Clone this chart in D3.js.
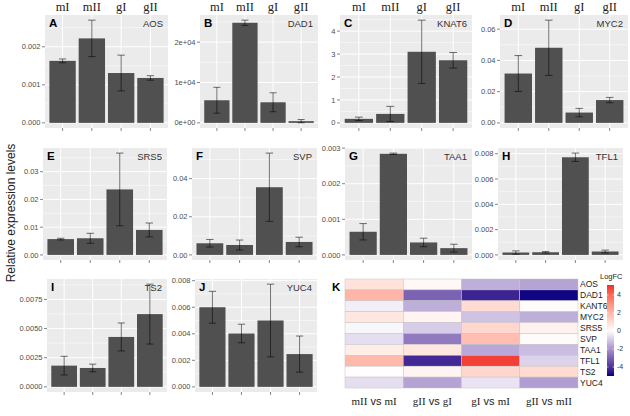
<!DOCTYPE html>
<html><head><meta charset="utf-8">
<script src="https://cdn.jsdelivr.net/npm/d3@7"></script>
<style>
body{margin:0;background:#fff;}
svg{display:block;font-family:"Liberation Sans",Arial,sans-serif;}
</style>
</head><body>
<svg id="c" width="630" height="416"></svg>
<script>
// ---------- DATA ----------
const groups = ["mI","mII","gI","gII"];

const aosMean  = [0.00163, 0.00222, 0.00131, 0.00118];
const aosSE    = [0.00005, 0.00048, 0.00047, 0.00006];
const dad1Mean = [5600, 24800, 5100, 420];
const dad1SE   = [3200, 650, 2350, 400];
const knat6Mean= [0.175, 0.39, 3.10, 2.73];
const knat6SE  = [0.075, 0.33, 1.38, 0.34];
const myc2Mean = [0.0316, 0.0481, 0.0066, 0.0146];
const myc2SE   = [0.0115, 0.0177, 0.0027, 0.0017];
const srs5Mean = [0.0057, 0.0060, 0.0236, 0.0090];
const srs5SE   = [0.0003, 0.0018, 0.0131, 0.0025];
const svpMean  = [0.0061, 0.0052, 0.0355, 0.0068];
const svpSE    = [0.0020, 0.0026, 0.0179, 0.0025];
const taa1Mean = [0.00065, 0.00284, 0.00035, 0.00019];
const taa1SE   = [0.00023, 0.00002, 0.00012, 0.00011];
const tfl1Mean = [0.00019, 0.00021, 0.00772, 0.00027];
const tfl1SE   = [0.00013, 0.00006, 0.00033, 0.00011];
const ts2Mean  = [0.00182, 0.00162, 0.00428, 0.00624];
const ts2SE    = [0.00080, 0.00033, 0.00120, 0.00257];
const yuc4Mean = [0.0060, 0.00402, 0.0050, 0.00247];
const yuc4SE   = [0.0012, 0.0007, 0.00274, 0.00136];

const aosTicks  = [0, 0.001, 0.002];           const aosTickLabels  = ["0.000","0.001","0.002"];
const dad1Ticks = [0, 10000, 20000];           const dad1TickLabels = ["0e+00","1e+04","2e+04"];
const knat6Ticks= [0, 1, 2, 3, 4];             const knat6TickLabels= ["0","1","2","3","4"];
const myc2Ticks = [0, 0.02, 0.04, 0.06];       const myc2TickLabels = ["0.00","0.02","0.04","0.06"];
const srs5Ticks = [0, 0.01, 0.02, 0.03];       const srs5TickLabels = ["0.00","0.01","0.02","0.03"];
const svpTicks  = [0, 0.02, 0.04];             const svpTickLabels  = ["0.00","0.02","0.04"];
const taa1Ticks = [0, 0.001, 0.002, 0.003];    const taa1TickLabels = ["0.000","0.001","0.002","0.003"];
const tfl1Ticks = [0, 0.002, 0.004, 0.006, 0.008]; const tfl1TickLabels = ["0.000","0.002","0.004","0.006","0.008"];
const ts2Ticks  = [0, 0.0025, 0.005, 0.0075];  const ts2TickLabels  = ["0.0000","0.0025","0.0050","0.0075"];
const yuc4Ticks = [0, 0.002, 0.004, 0.006, 0.008]; const yuc4TickLabels = ["0.000","0.002","0.004","0.006","0.008"];

const hmCols = ["mII vs mI","gII vs gI","gI vs mI","gII vs mII"];
const hmRows = ["AOS","DAD1","KANT6","MYC2","SRS5","SVP","TAA1","TFL1","TS2","YUC4"];
const fcMIIvsMI  = [0.8, 2.0, -0.3, 0.7, -0.15, -0.6, 0.5, 1.9, 0.05, -0.6];
const fcGIIvsGI  = [0.2, -3.0, -1.5, 0.3, -0.9, -2.5, 0.7, -4.2, 0.3, -1.7];
const fcGIvsMI   = [-1.5, -4.3, 1.0, -1.1, 1.1, 1.8, -1.6, 4.8, 1.1, -0.5];
const fcGIIvsMII = [-1.7, -4.9, 0.1, -1.5, 0.4, 0.1, -1.2, -0.8, 1.0, -1.8];
const legendTicks = [-4, -2, 0, 2, 4];

// ---------- LAYOUT ----------
const svg = d3.select("#c");
const R1 = [15, 128], R2 = [148, 260], R3 = [279, 392];
const panels = [
  {k:"A", gene:"AOS",   m:aosMean,  s:aosSE,  t:aosTicks,  tl:aosTickLabels,  x:[45,168],  y:R1, head:true},
  {k:"B", gene:"DAD1",  m:dad1Mean, s:dad1SE, t:dad1Ticks, tl:dad1TickLabels, x:[200,318], y:R1, head:true},
  {k:"C", gene:"KNAT6", m:knat6Mean,s:knat6SE,t:knat6Ticks,tl:knat6TickLabels,x:[340,472], y:R1, head:true},
  {k:"D", gene:"MYC2",  m:myc2Mean, s:myc2SE, t:myc2Ticks, tl:myc2TickLabels, x:[500,628], y:R1, head:true},
  {k:"E", gene:"SRS5",  m:srs5Mean, s:srs5SE, t:srs5Ticks, tl:srs5TickLabels, x:[43,167],  y:R2},
  {k:"F", gene:"SVP",   m:svpMean,  s:svpSE,  t:svpTicks,  tl:svpTickLabels,  x:[192,317], y:R2},
  {k:"G", gene:"TAA1",  m:taa1Mean, s:taa1SE, t:taa1Ticks, tl:taa1TickLabels, x:[345,472], y:R2},
  {k:"H", gene:"TFL1",  m:tfl1Mean, s:tfl1SE, t:tfl1Ticks, tl:tfl1TickLabels, x:[498,623], y:R2},
  {k:"I", gene:"TS2",   m:ts2Mean,  s:ts2SE,  t:ts2Ticks,  tl:ts2TickLabels,  x:[47,167],  y:R3},
  {k:"J", gene:"YUC4",  m:yuc4Mean, s:yuc4SE, t:yuc4Ticks, tl:yuc4TickLabels, x:[195,317], y:R3}
];

panels.forEach(p => {
  const g = svg.append("g");
  const M = d3.max(p.m.map((v,i)=>v+p.s[i]));
  const y = d3.scaleLinear().domain([-0.05*M, 1.05*M]).range([p.y[1], p.y[0]]);
  const x = d3.scaleBand().domain(groups).range(p.x).paddingInner(0.1).paddingOuter(0.15);
  const cx = d => x(d) + x.bandwidth()/2;

  g.append("rect").attr("x",p.x[0]).attr("y",p.y[0])
    .attr("width",p.x[1]-p.x[0]).attr("height",p.y[1]-p.y[0]).attr("fill","#EBEBEB");

  // minor grid
  const step = p.t[1]-p.t[0];
  const minors = p.t.map(t=>t+step/2).filter(v=>v<=y.domain()[1]);
  g.selectAll(".mn").data(minors).join("line")
    .attr("x1",p.x[0]).attr("x2",p.x[1]).attr("y1",d=>y(d)).attr("y2",d=>y(d))
    .attr("stroke","#fff").attr("stroke-width",0.5);
  // major grid
  g.selectAll(".mj").data(p.t).join("line")
    .attr("x1",p.x[0]).attr("x2",p.x[1]).attr("y1",d=>y(d)).attr("y2",d=>y(d))
    .attr("stroke","#fff").attr("stroke-width",1);
  g.selectAll(".vg").data(groups).join("line")
    .attr("x1",cx).attr("x2",cx).attr("y1",p.y[0]).attr("y2",p.y[1])
    .attr("stroke","#fff").attr("stroke-width",1);

  // bars
  g.selectAll(".bar").data(groups).join("rect")
    .attr("x",d=>x(d)).attr("width",x.bandwidth())
    .attr("y",(d,i)=>y(p.m[i])).attr("height",(d,i)=>y(0)-y(p.m[i]))
    .attr("fill","#505050");

  // error bars
  const cap = x.step()*0.125;
  const eb = g.selectAll(".eb").data(groups).join("g")
    .attr("stroke","rgba(0,0,0,0.55)").attr("stroke-width",1).attr("fill","none");
  eb.append("line").attr("x1",cx).attr("x2",cx)
    .attr("y1",(d,i)=>y(p.m[i]+p.s[i])).attr("y2",(d,i)=>y(p.m[i]-p.s[i]));
  eb.append("line").attr("x1",d=>cx(d)-cap).attr("x2",d=>cx(d)+cap)
    .attr("y1",(d,i)=>y(p.m[i]+p.s[i])).attr("y2",(d,i)=>y(p.m[i]+p.s[i]));
  eb.append("line").attr("x1",d=>cx(d)-cap).attr("x2",d=>cx(d)+cap)
    .attr("y1",(d,i)=>y(p.m[i]-p.s[i])).attr("y2",(d,i)=>y(p.m[i]-p.s[i]));

  // y axis
  g.selectAll(".yt").data(p.t).join("line")
    .attr("x1",p.x[0]-3).attr("x2",p.x[0]).attr("y1",d=>y(d)).attr("y2",d=>y(d))
    .attr("stroke","#333").attr("stroke-width",0.6);
  g.selectAll(".yl").data(p.t).join("text")
    .attr("x",p.x[0]-4.5).attr("y",d=>y(d)).attr("dy","0.35em")
    .attr("text-anchor","end").attr("font-size",7.5).attr("fill","#4D4D4D")
    .text((d,i)=>p.tl[i]);
  // x ticks
  g.selectAll(".xt").data(groups).join("line")
    .attr("x1",cx).attr("x2",cx).attr("y1",p.y[1]).attr("y2",p.y[1]+3)
    .attr("stroke","#333").attr("stroke-width",0.6);

  // annotations
  g.append("text").attr("x",p.x[0]+4).attr("y",p.y[0]+12)
    .attr("font-size",11.5).attr("font-weight","bold").attr("fill","#000").text(p.k);
  g.append("text").attr("x",p.x[1]-5).attr("y",p.y[0]+12).attr("text-anchor","end")
    .attr("font-size",9.5).attr("fill","#333").text(p.gene);

  if (p.head) {
    g.selectAll(".hd").data(groups).join("text")
      .attr("x",cx).attr("y",11).attr("text-anchor","middle")
      .attr("font-family","'Liberation Serif','Times New Roman',serif")
      .attr("font-size",12.5).attr("fill","#222").text(d=>d);
  }
});

// y label
svg.append("text").attr("transform","translate(15,213) rotate(-90)")
  .attr("text-anchor","middle").attr("font-size",12).attr("fill","#222")
  .text("Relative expression levels");

// ---------- HEATMAP ----------
const hmData = [fcMIIvsMI, fcGIIvsGI, fcGIvsMI, fcGIIvsMII];
const hx = d3.scaleBand().domain(hmCols).range([345,578]);
const hy = d3.scaleBand().domain(hmRows).range([279,388]);
const col = d3.scaleLinear().domain([-5, 0, 5.1]).range(["#000080","#ffffff","#EE2C2C"]).interpolate(d3.interpolateLab);
const hg = svg.append("g");
hmCols.forEach((c,ci)=>{
  hg.selectAll(".c"+ci).data(hmRows).join("rect")
    .attr("x",hx(c)).attr("width",hx.bandwidth())
    .attr("y",r=>hy(r)).attr("height",hy.bandwidth())
    .attr("fill",(r,ri)=>col(hmData[ci][ri]))
    .attr("stroke","#c4c4c4").attr("stroke-width",0.5);
});
hg.selectAll(".rl").data(hmRows).join("text")
  .attr("x",580).attr("y",r=>hy(r)+hy.bandwidth()/2).attr("dy","0.35em")
  .attr("font-size",8.5).attr("fill","#222").text(r=>r);
hmCols.forEach(c=>{
  const parts = c.split(" vs ");
  const t = hg.append("text").attr("x",hx(c)+hx.bandwidth()/2).attr("y",405)
    .attr("text-anchor","middle").attr("font-size",11).attr("fill","#222");
  t.append("tspan").attr("font-family","'Liberation Serif',serif").text(parts[0]);
  t.append("tspan").text(" vs ");
  t.append("tspan").attr("font-family","'Liberation Serif',serif").text(parts[1]);
});
hg.append("text").attr("x",332).attr("y",291).attr("font-size",11.5).attr("font-weight","bold").text("K");

// legend
const ly = d3.scaleLinear().domain([-5, 5.1]).range([376, 285]);
const defs = svg.append("defs");
const grad = defs.append("linearGradient").attr("id","lg").attr("x1",0).attr("x2",0).attr("y1",1).attr("y2",0);
d3.range(0,1.0001,0.05).forEach(f=>{
  grad.append("stop").attr("offset",f).attr("stop-color",col(-5+f*10.1));
});
svg.append("rect").attr("x",607).attr("y",285).attr("width",7).attr("height",91).attr("fill","url(#lg)");
svg.selectAll(".lt").data(legendTicks).join("line")
  .attr("x1",607).attr("x2",608.5).attr("y1",d=>ly(d)).attr("y2",d=>ly(d)).attr("stroke","#fff").attr("stroke-width",0.6);
svg.selectAll(".lt2").data(legendTicks).join("line")
  .attr("x1",612.5).attr("x2",614).attr("y1",d=>ly(d)).attr("y2",d=>ly(d)).attr("stroke","#fff").attr("stroke-width",0.6);
svg.selectAll(".ll").data(legendTicks).join("text")
  .attr("x",617).attr("y",d=>ly(d)).attr("dy","0.35em").attr("font-size",7).attr("fill","#333").text(d=>d);
svg.append("text").attr("x",600).attr("y",279).attr("font-size",7.5).attr("fill","#222").text("LogFC");
</script>
</body></html>
